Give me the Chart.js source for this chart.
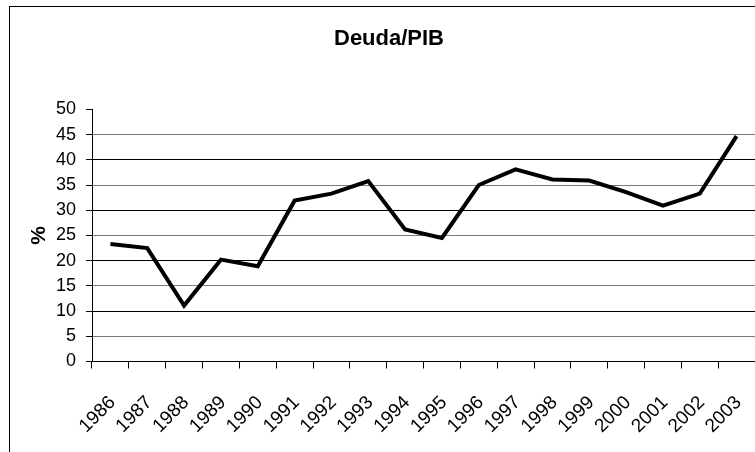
<!DOCTYPE html>
<html>
<head>
<meta charset="utf-8">
<script src="https://cdn.jsdelivr.net/npm/chart.js@4/dist/chart.umd.min.js"></script>
<style>
  html, body { margin: 0; padding: 0; background: #fff; overflow: hidden; }
  #wrap { position: relative; width: 755px; height: 452px; }
  #frame {
    position: absolute; left: 9px; top: 6px; width: 800px; height: 500px;
    border-left: 1px solid #000; border-top: 1px solid #000;
  }
  #chart { position: absolute; left: 0; top: 0; }
</style>
</head>
<body>
<div id="wrap">
  <div id="frame"></div>
  <canvas id="chart" width="755" height="452"></canvas>
</div>
<script>
const years = ["1986", "1987", "1988", "1989", "1990", "1991", "1992", "1993", "1994",
  "1995", "1996", "1997", "1998", "1999", "2000", "2001", "2002", "2003"];
const deudaPib = [23.3, 22.5, 11.1, 20.2, 18.9, 31.9, 33.3, 35.8, 26.2,
  24.5, 35.0, 38.1, 36.1, 35.9, 33.6, 30.9, 33.3, 44.7];
const yMin = 0;
const yMax = 50;
const yStep = 5;

const FONT = "'Liberation Sans', Arial, sans-serif";

function gridColor(ctx) {
  const v = ctx.tick ? ctx.tick.value : 0;
  if (v === yMax) return "rgba(0,0,0,0)";
  return v % 10 === 0 ? "#000" : "#7a7a7a";
}

new Chart(document.getElementById("chart"), {
  type: "line",
  data: {
    labels: years,
    datasets: [
      {
        label: "Deuda/PIB",
        data: deudaPib,
        borderColor: "#000",
        backgroundColor: "#000",
        borderWidth: 4,
        pointRadius: 0,
        tension: 0,
      },
    ],
  },
  options: {
    responsive: false,
    devicePixelRatio: 1,
    animation: false,
    layout: { padding: { left: 23, top: 0, right: 0, bottom: 0 } },
    plugins: {
      legend: { display: false },
      tooltip: { enabled: false },
      title: {
        display: true,
        text: "Deuda/PIB",
        color: "#000",
        font: { family: FONT, size: 22, weight: "bold" },
        padding: { top: 26, bottom: 57 },
      },
    },
    scales: {
      x: {
        offset: true,
        grid: { offset: true, drawOnChartArea: false, color: "#000", tickLength: 7 },
        border: { color: "#000" },
        ticks: {
          autoSkip: false,
          minRotation: 45,
          maxRotation: 45,
          padding: 23,
          labelOffset: 2,
          color: "#000",
          font: { family: FONT, size: 19 },
        },
        afterFit(scale) {
          scale.height = 90.5;
          // the reference is cropped on the right, so let the last label run off the edge
          scale.paddingLeft = 0;
          scale.paddingRight = 0;
        },
      },
      y: {
        min: yMin,
        max: yMax,
        ticks: {
          stepSize: yStep,
          autoSkip: false,
          padding: 10,
          color: "#000",
          font: { family: FONT, size: 18 },
        },
        grid: { color: gridColor, tickColor: "#000", tickLength: 6 },
        border: { color: "#000" },
        title: {
          display: true,
          text: "%",
          color: "#000",
          font: { family: FONT, size: 21, weight: "bold" },
          padding: { top: 4, bottom: 0 },
        },
        afterFit(scale) {
          scale.width = 69;
        },
      },
    },
  },
});
</script>
</body>
</html>
